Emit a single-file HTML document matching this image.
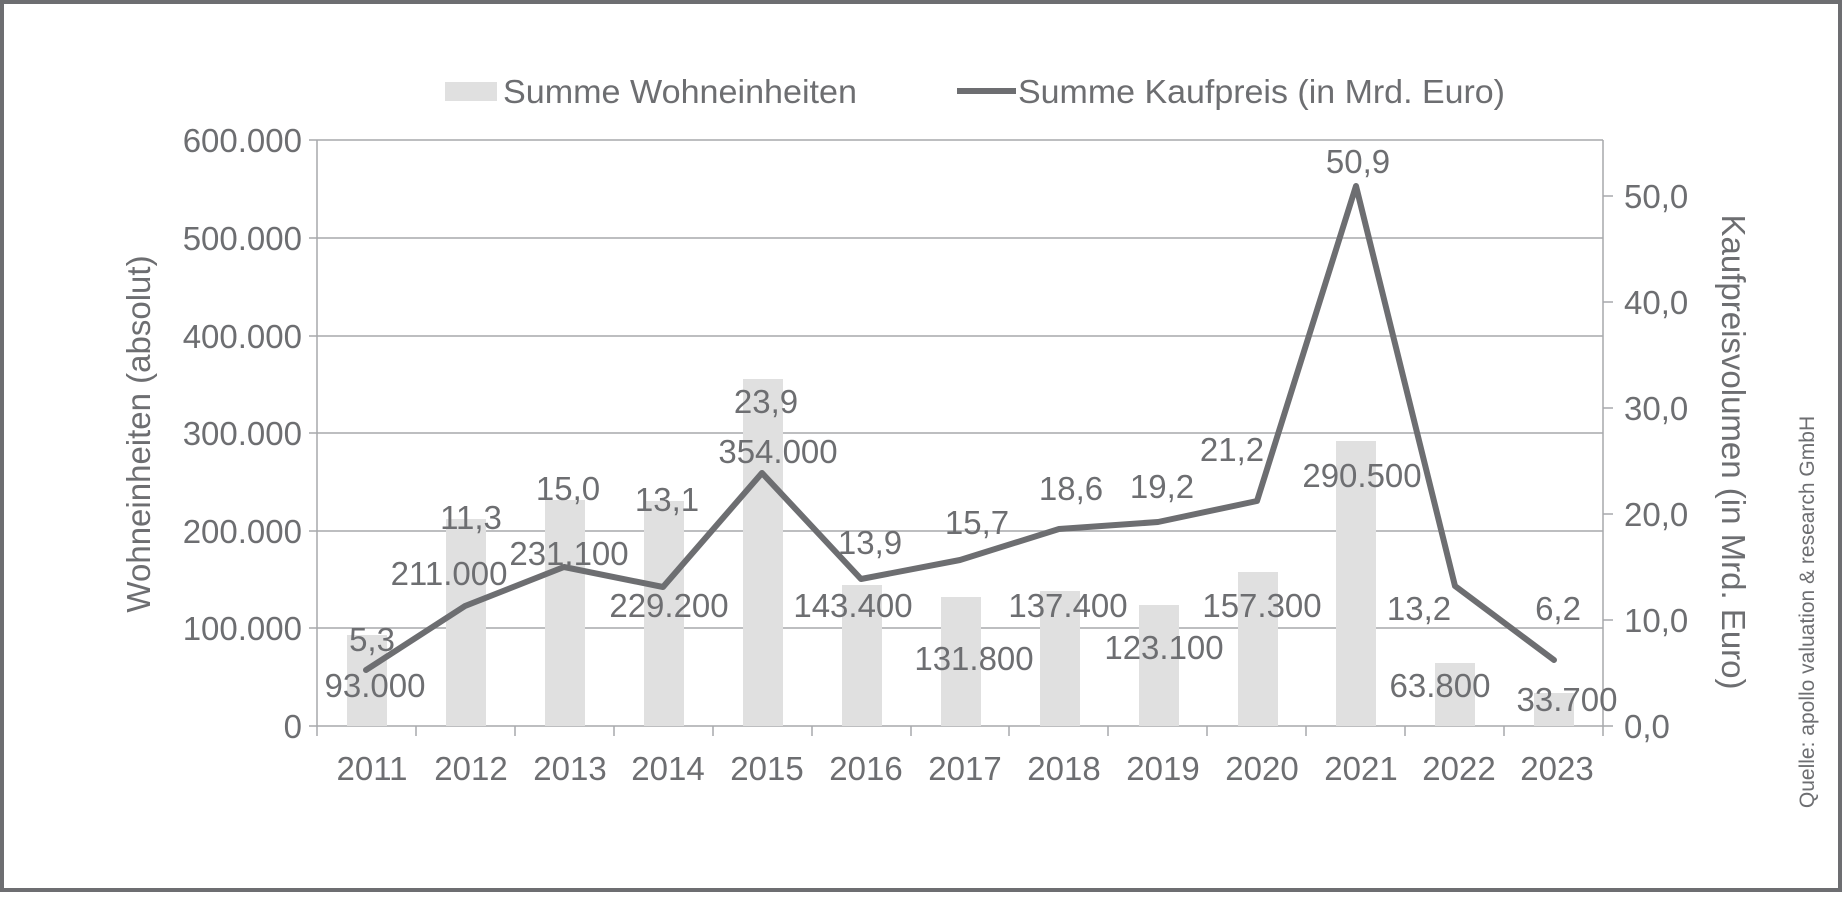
<!DOCTYPE html>
<html><head><meta charset="utf-8"><style>
html,body{margin:0;padding:0;background:#fff;}
svg{display:block;}
text{font-family:"Liberation Sans",sans-serif;fill:#6d6e71;}
</style></head><body>
<svg width="1848" height="898" viewBox="0 0 1848 898" xmlns="http://www.w3.org/2000/svg">
<rect x="2" y="2" width="1838" height="888" fill="#fff" stroke="#6d6e71" stroke-width="4"/>
<!-- legend -->
<rect x="445" y="82" width="52" height="19" fill="#e0e0e0"/>
<text x="503" y="103" font-size="33" textLength="354" lengthAdjust="spacingAndGlyphs">Summe Wohneinheiten</text>
<line x1="957" y1="91" x2="1016" y2="91" stroke="#6d6e71" stroke-width="6"/>
<text x="1018" y="103" font-size="33" textLength="487" lengthAdjust="spacingAndGlyphs">Summe Kaufpreis (in Mrd. Euro)</text>
<!-- grid -->
<g stroke="#a7a9ac" stroke-width="1.5">
<line x1="309" y1="140" x2="1603" y2="140"/>
<line x1="309" y1="238" x2="1603" y2="238"/>
<line x1="309" y1="336" x2="1603" y2="336"/>
<line x1="309" y1="433" x2="1603" y2="433"/>
<line x1="309" y1="531" x2="1603" y2="531"/>
<line x1="309" y1="628" x2="1603" y2="628"/>
<line x1="309" y1="726" x2="1613" y2="726"/>
<line x1="317" y1="140" x2="317" y2="726"/>
<line x1="1603" y1="140" x2="1603" y2="736"/>
</g>
<g stroke="#a7a9ac" stroke-width="1.5">
<line x1="1603" y1="620" x2="1613" y2="620"/>
<line x1="1603" y1="514" x2="1613" y2="514"/>
<line x1="1603" y1="408" x2="1613" y2="408"/>
<line x1="1603" y1="302" x2="1613" y2="302"/>
<line x1="1603" y1="196" x2="1613" y2="196"/>
<line x1="317" y1="726" x2="317" y2="736"/>
<line x1="416" y1="726" x2="416" y2="736"/>
<line x1="515" y1="726" x2="515" y2="736"/>
<line x1="614" y1="726" x2="614" y2="736"/>
<line x1="713" y1="726" x2="713" y2="736"/>
<line x1="812" y1="726" x2="812" y2="736"/>
<line x1="911" y1="726" x2="911" y2="736"/>
<line x1="1009" y1="726" x2="1009" y2="736"/>
<line x1="1108" y1="726" x2="1108" y2="736"/>
<line x1="1207" y1="726" x2="1207" y2="736"/>
<line x1="1306" y1="726" x2="1306" y2="736"/>
<line x1="1405" y1="726" x2="1405" y2="736"/>
<line x1="1504" y1="726" x2="1504" y2="736"/>
</g>
<g fill="#e0e0e0">
<rect x="347" y="635" width="40" height="91"/>
<rect x="446" y="519" width="40" height="207"/>
<rect x="545" y="500" width="40" height="226"/>
<rect x="644" y="501" width="40" height="225"/>
<rect x="743" y="379" width="40" height="347"/>
<rect x="842" y="585" width="40" height="141"/>
<rect x="941" y="597" width="40" height="129"/>
<rect x="1040" y="591" width="40" height="135"/>
<rect x="1139" y="605" width="40" height="121"/>
<rect x="1238" y="572" width="40" height="154"/>
<rect x="1336" y="441" width="40" height="285"/>
<rect x="1435" y="663" width="40" height="63"/>
<rect x="1534" y="693" width="40" height="33"/>
</g>
<polyline fill="none" stroke="#6d6e71" stroke-width="6" stroke-linejoin="round" stroke-linecap="round"
points="366,670 465,606 564,567 663,587 762,473 861,579 960,560 1059,529 1158,522 1257,501 1356,186 1455,586 1554,660"/>
<g font-size="33" text-anchor="end">
<text x="302" y="152">600.000</text>
<text x="302" y="250">500.000</text>
<text x="302" y="348">400.000</text>
<text x="302" y="445">300.000</text>
<text x="302" y="543">200.000</text>
<text x="302" y="640">100.000</text>
<text x="302" y="738">0</text>
</g>
<g font-size="33">
<text x="1624" y="738">0,0</text>
<text x="1624" y="632">10,0</text>
<text x="1624" y="526">20,0</text>
<text x="1624" y="420">30,0</text>
<text x="1624" y="314">40,0</text>
<text x="1624" y="208">50,0</text>
</g>
<g font-size="33" text-anchor="middle">
<text x="372" y="780">2011</text>
<text x="471" y="780">2012</text>
<text x="570" y="780">2013</text>
<text x="668" y="780">2014</text>
<text x="767" y="780">2015</text>
<text x="866" y="780">2016</text>
<text x="965" y="780">2017</text>
<text x="1064" y="780">2018</text>
<text x="1163" y="780">2019</text>
<text x="1262" y="780">2020</text>
<text x="1361" y="780">2021</text>
<text x="1459" y="780">2022</text>
<text x="1557" y="780">2023</text>
</g>
<g font-size="33" text-anchor="middle">
<text x="372" y="651">5,3</text>
<text x="375" y="697">93.000</text>
<text x="471" y="529">11,3</text>
<text x="449" y="585">211.000</text>
<text x="568" y="500">15,0</text>
<text x="569" y="565">231.100</text>
<text x="667" y="511">13,1</text>
<text x="669" y="617">229.200</text>
<text x="766" y="413">23,9</text>
<text x="778" y="463">354.000</text>
<text x="870" y="554">13,9</text>
<text x="853" y="617">143.400</text>
<text x="977" y="534">15,7</text>
<text x="974" y="670">131.800</text>
<text x="1071" y="500">18,6</text>
<text x="1068" y="617">137.400</text>
<text x="1162" y="498">19,2</text>
<text x="1164" y="659">123.100</text>
<text x="1232" y="461">21,2</text>
<text x="1262" y="617">157.300</text>
<text x="1358" y="173">50,9</text>
<text x="1362" y="487">290.500</text>
<text x="1419" y="620">13,2</text>
<text x="1440" y="697">63.800</text>
<text x="1558" y="620">6,2</text>
<text x="1567" y="711">33.700</text>
</g>
<text transform="translate(150,434) rotate(-90)" font-size="33" text-anchor="middle">Wohneinheiten (absolut)</text>
<text transform="translate(1722,452) rotate(90)" font-size="33" text-anchor="middle">Kaufpreisvolumen (in Mrd. Euro)</text>
<text transform="translate(1814,612) rotate(-90)" font-size="21" text-anchor="middle">Quelle: apollo valuation &amp; research GmbH</text>
</svg>
</body></html>
